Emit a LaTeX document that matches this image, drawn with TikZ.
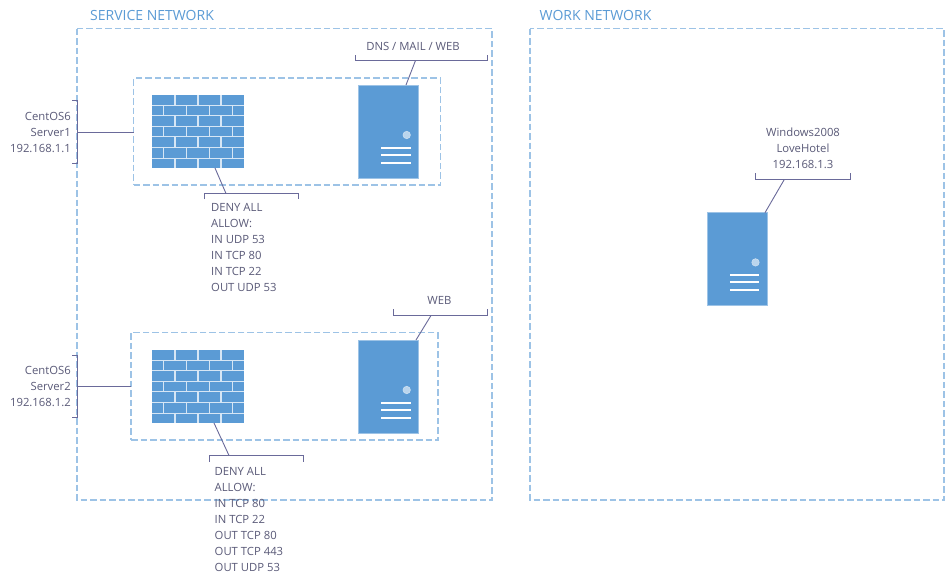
\documentclass[tikz,border=0pt]{standalone}
\usepackage{fontspec}
\setmainfont{Open Sans}
\definecolor{blue1}{HTML}{5B9BD5}
\definecolor{dashc}{HTML}{9DC3E6}
\definecolor{leader}{HTML}{6A6A9A}
\definecolor{txt}{HTML}{5A5A78}
\newcommand{\firewall}[2]{%
  \fill[blue1!25!white] (#1,#2) rectangle (#1+92,#2+73.3);
  \foreach \r in {0,...,6}{%
    \pgfmathsetmacro{\yy}{#2+\r*10.6}%
    \pgfmathsetmacro{\yz}{\yy+9.6}%
    \pgfmathtruncatemacro{\odd}{mod(\r,2)}%
    \ifnum\odd=0
      \foreach \a/\b in {0/22.3,23.7/45.3,46.7/68.3,69.7/92}{\fill[blue1] (#1+\a,\yy) rectangle (#1+\b,\yz);}%
    \else
      \foreach \a/\b in {0/11,12.2/34,35.2/57,58.3/80,81.3/92}{\fill[blue1] (#1+\a,\yy) rectangle (#1+\b,\yz);}%
    \fi
  }%
}
\newcommand{\serverdeco}[2]{%
  \fill[fill=dashc!70!white,draw=white!70!blue1,line width=.6pt] (#1+48.2,#2+50) circle (3.7);
  \foreach \d in {62.7,70,77.5}{\draw[white,line width=2pt] (#1+22.5,#2+\d) -- (#1+52,#2+\d);}%
}
\tikzset{
  x=1pt,y=-1pt,
  zone/.style={draw=dashc,line width=1.5pt,dash pattern=on 6.5pt off 3pt,fill=none,outer sep=0pt},
  server/.style={fill=blue1,draw=dashc,line width=.5pt,minimum width=59.5pt,inner sep=0pt,outer sep=0pt,anchor=north west},
  wall/.style={minimum width=92pt,minimum height=73pt,inner sep=0pt,anchor=north west},
  leaderline/.style={draw=leader,line width=.9pt},
  bracket/.style={draw=leader,line width=.9pt},
  note/.style={text=txt,font=\fontsize{11.3}{16}\selectfont,inner sep=0pt},
  title/.style={text=blue1,font=\fontsize{14}{15}\selectfont,inner sep=0pt,anchor=west},
}
\begin{document}
\begin{tikzpicture}
\useasboundingbox (0,0) rectangle (946,581);
\fill[white] (0,0) rectangle (946,581);
\node[title] (t1) at (90,15) {SERVICE NETWORK};
\node[title] (t2) at (539.5,15) {WORK NETWORK};
% zones
\draw[zone] (77,28.5) rectangle (492,500);
\draw[zone] (530,28.5) rectangle (944,500);
\node[zone,inner sep=0pt,minimum width=307pt,minimum height=107pt,anchor=north west] (zone1) at (133.5,78) {};
\node[zone,inner sep=0pt,minimum width=307pt,minimum height=107.3pt,anchor=north west] (zone2) at (131,332.7) {};
% firewalls
\node[wall] (fw1) at (152,95) {};
\firewall{152}{95}
\node[wall] (fw2) at (152,350) {};
\firewall{152}{350}
% servers
\node[server,minimum height=93.5pt] (srv1) at (358.7,85) {};
\serverdeco{358.5}{85}
\node[server,minimum height=93.5pt] (srv2) at (358.7,340) {};
\serverdeco{358.5}{340}
\node[server,minimum height=93pt] (srv3) at (707.3,212.7) {};
\serverdeco{707.3}{212.4}
% brackets and their tie points
\coordinate (b1) at (77,132);
\draw[bracket] (72,100.5) -- (77,100.5) -- (77,163.5) -- (72,163.5);
\coordinate (b2) at (77,386.5);
\draw[bracket] (72,355.5) -- (77,355.5) -- (77,417.5) -- (72,417.5);
\coordinate (b3) at (415.5,60.5);
\draw[bracket] (355.5,55) -- (355.5,60.5) -- (487.5,60.5) -- (487.5,55);
\coordinate (b4) at (431,315.5);
\draw[bracket] (393.5,309) -- (393.5,315.5) -- (487.5,315.5) -- (487.5,309);
\coordinate (b5) at (226,193.5);
\draw[bracket] (204.5,199) -- (204.5,193.5) -- (298.5,193.5) -- (298.5,199);
\coordinate (b6) at (229,455.5);
\draw[bracket] (209.5,461.5) -- (209.5,455.5) -- (303.5,455.5) -- (303.5,461.5);
\coordinate (b7) at (784.3,179.5);
\draw[bracket] (755.5,173) -- (755.5,179.5) -- (850.5,179.5) -- (850.5,173);
% connectors
\coordinate (s1t) at (406,85);
\coordinate (s2t) at (416,340);
\coordinate (s3t) at (765,212.7);
\coordinate (f1b) at (215,168);
\coordinate (f2b) at (214,423);
\draw[leaderline] (b1) -- (zone1.west |- b1);
\draw[leaderline] (b2) -- (zone2.west |- b2);
\draw[leaderline] (b3) -- (s1t);
\draw[leaderline] (b4) -- (s2t);
\draw[leaderline] (b5) -- (f1b);
\draw[leaderline] (b6) -- (f2b);
\draw[leaderline] (b7) -- (s3t);
% labels
\node[note,anchor=east,align=right] (l1) at (71,132) {CentOS6\\Server1\\192.168.1.1};
\node[note,anchor=east,align=right] (l2) at (71,386) {CentOS6\\Server2\\192.168.1.2};
\node[note] (l3) at (413,46) {DNS / MAIL / WEB};
\node[note] (l4) at (439.5,300) {WEB};
\node[note,align=center] (l5) at (803,148) {Windows2008\\LoveHotel\\192.168.1.3};
\node[note,anchor=north west,align=left] (l6) at (211,203.5) {DENY ALL\\ALLOW:\\IN UDP 53\\IN TCP 80\\IN TCP 22\\OUT UDP 53};
\node[note,anchor=north west,align=left] (l7) at (214.5,467) {DENY ALL\\ALLOW:\\IN TCP 80\\IN TCP 22\\OUT TCP 80\\OUT TCP 443\\OUT UDP 53};
\end{tikzpicture}
\end{document}
